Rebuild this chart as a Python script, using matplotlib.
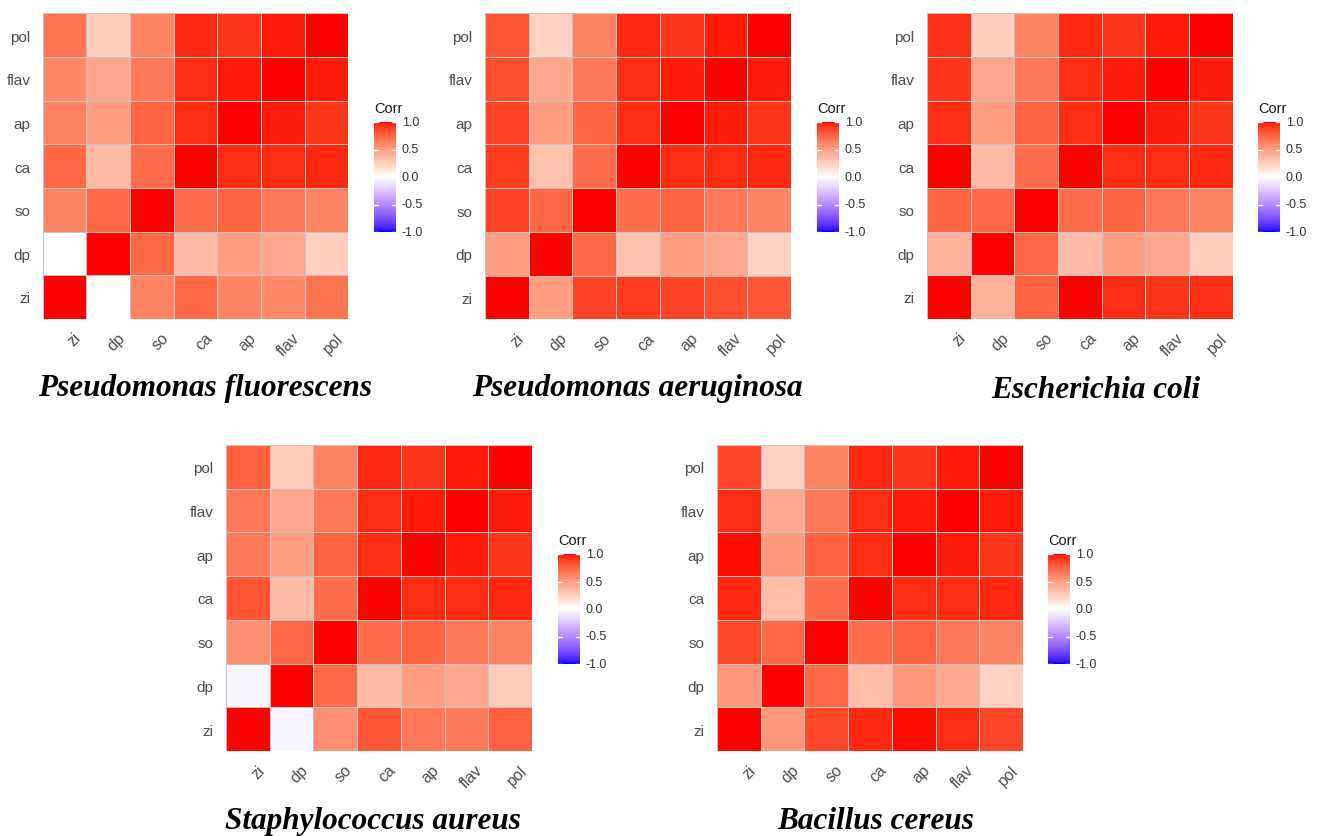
import numpy as np
import matplotlib
matplotlib.use("Agg")
import matplotlib.pyplot as plt
from matplotlib.colors import ListedColormap
from matplotlib.transforms import offset_copy

# Variable order (x left->right, y bottom->top)
labels = ["zi", "dp", "so", "ca", "ap", "flav", "pol"]

# Correlation matrices, rows = zi, dp, so, ca, ap, flav, pol (same order as columns)
p_fluorescens = [
    [1.00, 0.00, 0.62, 0.74, 0.62, 0.60, 0.70],
    [0.00, 1.00, 0.74, 0.36, 0.50, 0.45, 0.26],
    [0.62, 0.74, 1.00, 0.72, 0.76, 0.68, 0.62],
    [0.74, 0.36, 0.72, 1.00, 0.94, 0.94, 0.95],
    [0.62, 0.50, 0.76, 0.94, 1.00, 0.97, 0.92],
    [0.60, 0.45, 0.68, 0.94, 0.97, 1.00, 0.97],
    [0.70, 0.26, 0.62, 0.95, 0.92, 0.97, 1.00],
]
p_aeruginosa = [
    [1.00, 0.50, 0.88, 0.90, 0.88, 0.84, 0.82],
    [0.50, 1.00, 0.74, 0.32, 0.50, 0.45, 0.24],
    [0.88, 0.74, 1.00, 0.72, 0.76, 0.68, 0.62],
    [0.90, 0.32, 0.72, 1.00, 0.94, 0.94, 0.95],
    [0.88, 0.50, 0.76, 0.94, 1.00, 0.97, 0.92],
    [0.84, 0.45, 0.68, 0.94, 0.97, 1.00, 0.97],
    [0.82, 0.24, 0.62, 0.95, 0.92, 0.97, 1.00],
]
e_coli = [
    [1.00, 0.40, 0.76, 1.00, 0.94, 0.92, 0.93],
    [0.40, 1.00, 0.74, 0.35, 0.50, 0.45, 0.26],
    [0.76, 0.74, 1.00, 0.72, 0.76, 0.68, 0.62],
    [1.00, 0.35, 0.72, 1.00, 0.94, 0.94, 0.95],
    [0.94, 0.50, 0.76, 0.94, 1.00, 0.97, 0.92],
    [0.92, 0.45, 0.68, 0.94, 0.97, 1.00, 0.97],
    [0.93, 0.26, 0.62, 0.95, 0.92, 0.97, 1.00],
]
s_aureus = [
    [1.00, -0.04, 0.57, 0.82, 0.68, 0.68, 0.78],
    [-0.04, 1.00, 0.74, 0.36, 0.50, 0.45, 0.28],
    [0.57, 0.74, 1.00, 0.72, 0.76, 0.68, 0.62],
    [0.82, 0.36, 0.72, 1.00, 0.94, 0.94, 0.95],
    [0.68, 0.50, 0.76, 0.94, 1.00, 0.97, 0.92],
    [0.68, 0.45, 0.68, 0.94, 0.97, 1.00, 0.97],
    [0.78, 0.28, 0.62, 0.95, 0.92, 0.97, 1.00],
]
b_cereus = [
    [1.00, 0.53, 0.86, 0.95, 0.99, 0.94, 0.87],
    [0.53, 1.00, 0.74, 0.34, 0.52, 0.44, 0.24],
    [0.86, 0.74, 1.00, 0.72, 0.77, 0.68, 0.62],
    [0.95, 0.34, 0.72, 1.00, 0.94, 0.94, 0.95],
    [0.99, 0.52, 0.77, 0.94, 1.00, 0.97, 0.92],
    [0.94, 0.44, 0.68, 0.94, 0.97, 1.00, 0.97],
    [0.87, 0.24, 0.62, 0.95, 0.92, 0.97, 1.00],
]

titles = ["Pseudomonas fluorescens", "Pseudomonas aeruginosa", "Escherichia coli",
          "Staphylococcus aureus", "Bacillus cereus"]
matrices = [p_fluorescens, p_aeruginosa, e_coli, s_aureus, b_cereus]
cbar_ticks = [1.0, 0.5, 0.0, -0.5, -1.0]


def lab_to_rgb(lab):
    # CIELAB (D65) -> sRGB, clipped
    L, a, b = lab[:, 0], lab[:, 1], lab[:, 2]
    fy = (L + 16) / 116
    fx = fy + a / 500
    fz = fy - b / 200
    finv = lambda t: np.where(t > 6 / 29, t ** 3, 3 * (6 / 29) ** 2 * (t - 4 / 29))
    xyz = np.stack([0.95047 * finv(fx), finv(fy), 1.08883 * finv(fz)])
    m = np.array([[3.2406, -1.5372, -0.4986],
                  [-0.9689, 1.8758, 0.0415],
                  [0.0557, -0.2040, 1.0570]])
    lin = np.clip(m @ xyz, 0, 1).T
    return np.where(lin <= 0.0031308, 12.92 * lin, 1.055 * lin ** (1 / 2.4) - 0.055)


# blue - white - red gradient interpolated in Lab space (like ggplot's gradient2)
white = np.array([100.0, 0.0, 0.0])
red = np.array([53.24, 80.09, 67.20])
blue = np.array([32.30, 79.19, -107.86])
t = np.linspace(-1, 1, 257)[:, None]
lab = np.where(t >= 0, white + t * (red - white), white - t * (blue - white))
cmap = ListedColormap(lab_to_rgb(lab))

W, H = 1318, 837
fig = plt.figure(figsize=(W / 100, H / 100), dpi=100)


def px_axes(x, y, w, h):
    return fig.add_axes([x / W, 1 - (y + h) / H, w / W, h / H])


# (heatmap left, top, size), (colorbar left, top), (title x, title baseline)
layout = [
    ((42.7, 14.3, 305.5), (374, 123), (205, 396)),
    ((485.0, 14.3, 306.0), (817, 123), (637, 396)),
    ((927.0, 14.3, 305.5), (1258, 123), (1096, 398)),
    ((226.0, 446.0, 306.0), (558, 555), (373, 829)),
    ((717.0, 446.0, 306.0), (1048, 555), (876, 829)),
]

tick_col = "#4D4D4D"
for mat, title, (hm, cb, tt) in zip(matrices, titles, layout):
    ax = px_axes(hm[0], hm[1], hm[2], hm[2])
    ax.pcolormesh(np.arange(8), np.arange(8), np.array(mat), cmap=cmap, vmin=-1, vmax=1,
                  edgecolors="#C4C4C4", linewidth=0.6)
    ax.set_xlim(0, 7)
    ax.set_ylim(0, 7)
    for s in ax.spines.values():
        s.set_visible(False)
    ax.set_yticks(np.arange(7) + 0.5)
    ax.set_yticklabels(labels, fontsize=11, color=tick_col, family="Liberation Sans")
    ax.tick_params(axis="y", length=0, pad=9)
    ax.set_xticks(np.arange(7) + 0.5)
    ax.set_xticklabels([])
    ax.tick_params(axis="x", length=0)
    tr = offset_copy(ax.get_xaxis_transform(), fig=fig, x=9, y=-11, units="dots")
    for i, lb in enumerate(labels):
        ax.text(i + 0.5, 0, lb, transform=tr, rotation=45, rotation_mode="anchor",
                ha="right", va="top", fontsize=11.5, color=tick_col, family="Liberation Sans")

    # colorbar
    cax = px_axes(cb[0], cb[1], 22, 110)
    grad = np.linspace(1, -1, 300)[:, None]
    cax.imshow(grad, cmap=cmap, vmin=-1, vmax=1, aspect="auto", extent=[0, 1, -1, 1])
    cax.set_xlim(0, 1)
    cax.set_ylim(-1, 1)
    cax.set_xticks([])
    cax.set_yticks([])
    for s in cax.spines.values():
        s.set_visible(False)
    for v in cbar_ticks:
        cax.plot([0, 0.2], [v, v], color="white", lw=1)
        cax.plot([0.8, 1], [v, v], color="white", lw=1)
        cax.text(1.27, v, f"{v:.1f}", transform=cax.transData, ha="left", va="center",
                 fontsize=9, color="#333333", family="Liberation Sans", clip_on=False)
    fig.text(cb[0] / W, 1 - (cb[1] - 14) / H, "Corr", ha="left", va="center",
             fontsize=10.5, color="#1A1A1A", family="Liberation Sans")

    fig.text(tt[0] / W, 1 - tt[1] / H, title, ha="center", va="baseline",
             fontsize=22.5, family="Liberation Serif", fontweight="bold", fontstyle="italic")

fig.savefig("out.png", dpi=100)
